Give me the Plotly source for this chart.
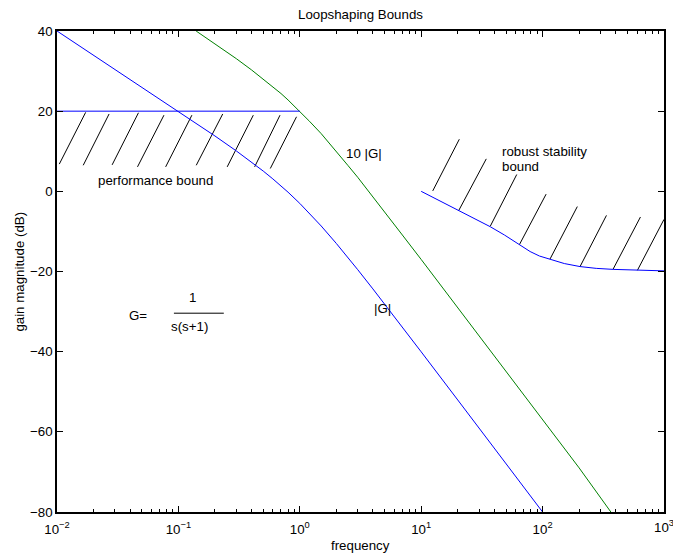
import numpy as np
import plotly.graph_objects as go

# ---- data ----
freq_G = [0.01, 0.03, 0.1, 0.15, 0.2, 0.3, 0.4, 0.5, 0.6, 0.7, 0.8, 1.0, 1.2, 1.5, 2, 2.5, 3, 4, 5, 7, 10, 20, 50, 100]
G_dB = [40.0, 30.46, 19.96, 16.38, 13.81, 10.08, 7.31, 5.05, 3.10, 1.37, -0.21, -3.01, -5.45, -8.64, -13.01,
        -16.56, -19.54, -24.34, -28.13, -33.89, -40.04, -52.05, -67.96, -80.0]

freq_10G = [0.14, 0.2, 0.3, 0.4, 0.5, 0.6, 0.7, 0.8, 1.0, 1.2, 1.5, 2, 2.5, 3, 4, 5, 7, 10, 20, 50, 100, 200, 365]
G10_dB = [40.0, 36.8, 33.1, 30.3, 28.0, 26.1, 24.4, 22.8, 20.0, 17.5, 14.4, 10.0, 6.4, 3.5, -1.3, -5.1, -10.9,
          -17.0, -29.0, -45.0, -57.0, -69.0, -80.0]

perf_freq = [0.01, 1.0]
perf_dB = [20.0, 20.0]

robust_logf = [1.0, 1.144, 1.309, 1.440, 1.569, 1.686, 1.815, 1.897, 1.974, 2.062, 2.179, 2.308, 2.442,
               2.581, 2.787, 3.0]
robust_dB = [0.0, -2.25, -4.79, -6.78, -8.83, -10.90, -13.40, -15.02, -16.14, -17.02, -18.02, -18.77, -19.22,
             -19.47, -19.69, -19.84]

# hatch segments: (log f start, dB start, log f end, dB end)
perf_hatch = [(-1.981, 6.8, -1.764, 19.7), (-1.784, 6.5, -1.571, 19.3), (-1.546, 6.6, -1.329, 19.6),
              (-1.337, 6.1, -1.119, 19.0), (-1.105, 6.1, -0.889, 19.0), (-0.853, 6.5, -0.635, 19.3),
              (-0.598, 6.1, -0.383, 19.0), (-0.372, 6.1, -0.163, 19.0), (-0.243, 5.7, -0.027, 18.6)]
robust_hatch = [(1.095, 0.1, 1.314, 13.0), (1.309, -4.8, 1.536, 8.1), (1.569, -8.7, 1.787, 4.2),
                (1.809, -13.3, 2.029, -0.7), (2.061, -16.9, 2.286, -3.8), (2.308, -18.8, 2.526, -6.0),
                (2.581, -19.4, 2.806, -6.4), (2.781, -19.7, 3.0, -7.0)]

frac_logf = [-1.037, -0.626]
frac_dB = [-30.4, -30.4]

x_ticks_log = [-2, -1, 0, 1, 2]
x_tick_text = ["10<sup>−2</sup>", "10<sup>−1</sup>", "10<sup>0</sup>", "10<sup>1</sup>", "10<sup>2</sup>"]
x_last_tick_log = 3
x_last_tick_text = "10<sup>3</sup>"
y_ticks = [-80, -60, -40, -20, 0, 20, 40]

BLUE = "#0000FF"
GREEN = "#008000"
FONT = "Liberation Sans, Arial, sans-serif"
FS = 13.3

fig = go.Figure()


def seg_trace(segs):
    xs, ys = [], []
    for a, b, c, d in segs:
        xs += [10 ** a, 10 ** c, None]
        ys += [b, d, None]
    return xs, ys


hx, hy = seg_trace(perf_hatch + robust_hatch)
fig.add_trace(go.Scatter(x=hx, y=hy, mode="lines", line=dict(color="black", width=1),
                         showlegend=False, hoverinfo="skip", connectgaps=False))
fig.add_trace(go.Scatter(x=freq_G, y=G_dB, mode="lines", line=dict(color=BLUE, width=1),
                         showlegend=False, hoverinfo="skip"))
fig.add_trace(go.Scatter(x=freq_10G, y=G10_dB, mode="lines", line=dict(color=GREEN, width=1),
                         showlegend=False, hoverinfo="skip"))
fig.add_trace(go.Scatter(x=perf_freq, y=perf_dB, mode="lines", line=dict(color=BLUE, width=1),
                         showlegend=False, hoverinfo="skip"))
fig.add_trace(go.Scatter(x=[10 ** v for v in robust_logf], y=robust_dB, mode="lines",
                         line=dict(color=BLUE, width=1), showlegend=False, hoverinfo="skip"))
fig.add_trace(go.Scatter(x=[10 ** v for v in frac_logf], y=frac_dB, mode="lines",
                         line=dict(color="black", width=1), showlegend=False, hoverinfo="skip"))

labels = [
    ("performance bound", -1.682, 2.7, "left"),
    ("10 |G|", 0.365, 9.5, "left"),
    ("robust stability", 1.651, 9.9, "left"),
    ("bound", 1.651, 6.1, "left"),
    ("|G|", 0.592, -29.2, "left"),
    ("G=", -1.420, -30.9, "left"),
    ("1", -0.881, -26.4, "center"),
    ("s(s+1)", -0.908, -33.8, "center"),
]
for txt, lx, ly, anc in labels:
    fig.add_annotation(x=lx, y=ly, xref="x", yref="y", text=txt, showarrow=False,
                       xanchor=anc, yanchor="middle", font=dict(family=FONT, size=FS, color="black"))

# last x tick label (partly beyond the page edge, as in the reference)
fig.add_annotation(x=x_last_tick_log, y=(512 - 526) / 481, xref="x", yref="paper", text=x_last_tick_text,
                   showarrow=False, xanchor="center", yanchor="middle",
                   font=dict(family=FONT, size=FS, color="black"))

fig.add_annotation(x=(19 - 57) / 609, y=0.5, xref="paper", yref="paper", text="gain magnitude (dB)",
                   textangle=-90, showarrow=False, xanchor="center", yanchor="middle",
                   font=dict(family=FONT, size=FS, color="black"))
fig.add_annotation(x=0.5, y=(512 - 545) / 481, xref="paper", yref="paper", text="frequency",
                   showarrow=False, xanchor="center", yanchor="middle",
                   font=dict(family=FONT, size=FS, color="black"))
fig.add_annotation(x=0.5, y=(512 - 14) / 481, xref="paper", yref="paper", text="Loopshaping Bounds",
                   showarrow=False, xanchor="center", yanchor="middle",
                   font=dict(family=FONT, size=FS, color="black"))

minor_vals = [m * 10 ** e for e in range(-2, 3) for m in range(2, 10)]

fig.update_layout(
    width=673, height=553,
    margin=dict(l=57, r=7, t=31, b=41),
    paper_bgcolor="white", plot_bgcolor="white",
    font=dict(family=FONT, size=FS, color="black"),
    xaxis=dict(type="log", range=[-2, 3], tickmode="array", tickvals=[10 ** v for v in x_ticks_log],
               ticktext=x_tick_text, ticklabelstandoff=4,
               showgrid=False, zeroline=False, showline=True, linecolor="black", linewidth=1.5,
               mirror="allticks", ticks="inside", ticklen=6, tickcolor="black",
               minor=dict(ticks="inside", ticklen=3, tickcolor="black", showgrid=False,
                          tickmode="array", tickvals=minor_vals),
               tickfont=dict(family=FONT, size=FS)),
    yaxis=dict(range=[-80, 40], tickmode="array", tickvals=y_ticks, showgrid=False, zeroline=False,
               showline=True, linecolor="black", linewidth=1.5, mirror="allticks", ticks="inside",
               ticklen=6, tickcolor="black", tickfont=dict(family=FONT, size=FS)),
)

fig.write_html("out.html")
